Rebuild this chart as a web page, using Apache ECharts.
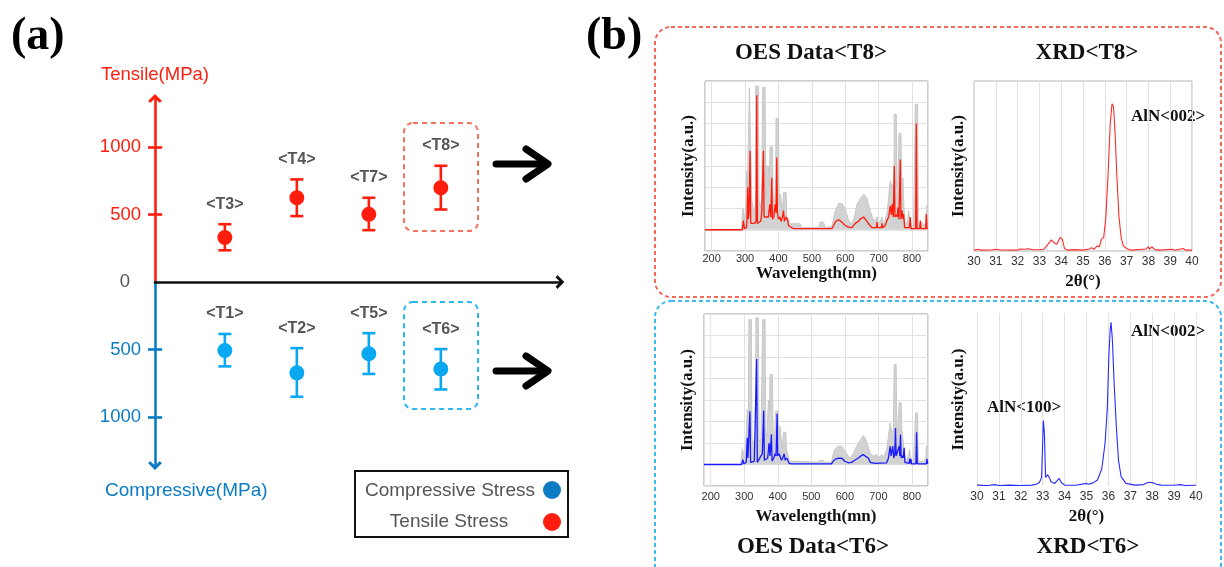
<!DOCTYPE html>
<html><head><meta charset="utf-8">
<script src="https://cdn.jsdelivr.net/npm/echarts@6.0.0/dist/echarts.min.js"></script>
<style>html,body{margin:0;padding:0;background:#fff}#c{width:1224px;height:567px}</style>
</head><body><div id="c"></div>
<script>
// ---------- panel (a): residual stress ----------
const tensileNames = ['<T3>', '<T4>', '<T7>', '<T8>'];
const tensileMean = [330, 624, 502, 698];
const tensileLow = [235, 488, 384, 537];
const tensileHigh = [428, 760, 624, 861];
const compressiveNames = ['<T1>', '<T2>', '<T5>', '<T6>'];
const compressiveMean = [507, 673, 532, 644];
const compressiveLow = [385, 490, 379, 497];
const compressiveHigh = [625, 850, 681, 796];
const sampleSlots = [0, 1, 2, 3];
const stressTicks = [500, 1000];

// ---------- panel (b): OES spectra [wavelength nm, intensity a.u.] ----------
const wavelengthLabels = [200, 300, 400, 500, 600, 700, 800];
const oesT8Reference = [[180,0],[290,0],[292,0.6],[294,1.0],[298,1.0],[300,0.5],[303,1.5],[305,2.76],[307,2.0],[311,2.0],[313,6.67],[318,6.67],[320,1.4],[324,1.0],[328,0.9],[331,1.3],[332,6.76],[340,6.76],[342,1.3],[346,1.1],[350,1.4],[353,6.7],[360,6.7],[362,1.5],[363,3.0],[370,3.0],[372,2.0],[375,3.9],[382,3.9],[384,1.6],[388,1.3],[391,1.8],[393,5.24],[400,5.24],[402,1.2],[405,1.7],[410,1.7],[412,0.9],[415,1.75],[423,1.75],[425,0.6],[430,0.5],[435,0.28],[465,0.28],[470,0.1],[520,0.1],[525,0.36],[535,0.36],[540,0.1],[560,0.15],[565,0.5],[570,0.9],[580,1.24],[590,1.24],[600,1.0],[610,0.43],[620,0.28],[628,0.6],[635,1.2],[645,1.45],[655,1.67],[665,1.5],[675,0.9],[685,0.43],[692,0.45],[695,0.6],[698,0.3],[705,0.4],[710,0.6],[713,0.3],[718,0.4],[725,0.74],[735,2.3],[740,2.0],[746,2.2],[747,5.43],[753,5.43],[755,2.0],[758,2.3],[761,4.54],[767,4.54],[769,2.0],[773,2.45],[776,1.0],[780,0.28],[786,0.3],[790,0.9],[794,0.9],[797,0.2],[805,0.2],[810,5.9],[817,5.9],[819,0.2],[830,0.35],[835,0.2],[842,0.3],[843,1.13],[848,1.13]];
const oesT8Spectrum = [[180,0],[292,0],[295,0.43],[298,0.05],[304,0.1],[306,0.5],[308,2.0],[310,0.5],[312,0.8],[315,3.72],[317,0.3],[322,0.3],[328,0.3],[333,0.4],[335,6.33],[337,0.3],[342,0.3],[347,0.4],[350,0.8],[352,0.8],[355,3.72],[357,0.6],[362,0.6],[370,0.6],[374,1.2],[377,0.6],[380,2.45],[382,0.5],[386,0.6],[390,1.2],[393,0.8],[395,3.4],[397,0.8],[400,0.5],[404,0.6],[408,0.4],[412,0.6],[415,0.9],[418,0.4],[423,0.6],[427,0.5],[430,0.2],[435,0.12],[445,0.05],[560,0.05],[565,0.2],[572,0.4],[580,0.47],[590,0.36],[600,0.2],[610,0.12],[620,0.1],[630,0.3],[640,0.4],[645,0.5],[650,0.45],[655,0.6],[660,0.5],[665,0.4],[670,0.28],[680,0.1],[694,0.1],[695,0.36],[697,0.1],[709,0.1],[710,0.3],[712,0.1],[720,0.2],[725,0.43],[730,0.6],[735,1.13],[738,0.7],[741,1.2],[744,0.6],[747,3.0],[749,0.6],[753,0.7],[756,0.6],[758,1.05],[761,0.5],[765,3.3],[767,0.5],[770,0.9],[773,0.5],[775,0.74],[778,0.1],[792,0.1],[795,0.6],[797,0.05],[811,0.05],[813,5.0],[815,0.05],[823,0.05],[825,0.43],[827,0.05],[841,0.05],[843,0.74],[845,0.05],[848,0.05]];
const oesT6Reference = [[180,0],[290,0],[292,0.4],[294,0.73],[299,0.73],[301,0.4],[305,1.0],[309,2.56],[312,1.5],[314,6.74],[321,6.74],[323,1.2],[328,1.0],[333,1.2],[335,6.82],[342,6.82],[344,1.1],[350,1.2],[355,6.74],[362,6.74],[364,1.3],[368,1.5],[372,3.0],[375,2.5],[377,4.19],[384,4.19],[386,1.5],[390,1.2],[394,2.48],[401,2.48],[403,1.2],[407,1.78],[410,1.2],[414,0.8],[417,1.5],[424,1.5],[426,0.7],[431,0.7],[435,0.15],[470,0.15],[475,0.1],[520,0.1],[525,0.2],[535,0.2],[540,0.1],[560,0.12],[565,0.45],[570,0.7],[580,0.85],[590,0.85],[600,0.62],[615,0.3],[625,0.5],[635,0.85],[645,1.1],[655,1.35],[665,1.08],[675,0.54],[685,0.4],[695,0.46],[700,0.3],[710,0.46],[715,0.3],[725,0.7],[735,1.94],[740,1.5],[745,1.6],[747,4.65],[753,4.65],[755,1.6],[758,1.7],[762,2.87],[768,2.87],[770,1.6],[775,1.63],[778,0.5],[783,0.15],[790,0.4],[793,0.7],[796,0.2],[805,0.15],[811,2.4],[817,2.4],[819,0.15],[835,0.15],[842,0.3],[843,0.85],[848,0.85]];
const oesT6Spectrum = [[180,0],[292,0],[296,0.23],[299,0.02],[306,0.1],[309,1.24],[311,0.3],[314,0.3],[317,2.48],[319,0.1],[324,0.1],[330,0.15],[335,0.15],[337,4.91],[339,0.1],[344,0.1],[350,0.4],[354,0.5],[358,2.51],[360,0.2],[364,0.25],[370,0.3],[374,1.0],[377,0.4],[381,1.4],[383,0.15],[388,0.3],[392,0.5],[395,0.4],[398,2.36],[400,0.4],[404,0.5],[408,0.45],[411,0.2],[415,0.3],[419,0.5],[422,0.2],[427,0.3],[431,0.39],[434,0.05],[440,0.03],[560,0.03],[565,0.15],[572,0.25],[582,0.3],[592,0.28],[600,0.15],[610,0.08],[620,0.1],[630,0.2],[640,0.3],[648,0.4],[655,0.46],[662,0.38],[670,0.3],[676,0.1],[690,0.05],[725,0.08],[730,0.3],[735,0.85],[738,0.4],[743,0.85],[746,0.3],[749,0.5],[751,1.7],[753,0.4],[757,0.4],[762,0.85],[764,0.4],[766,1.4],[768,0.3],[771,0.4],[774,0.3],[777,0.78],[779,0.1],[792,0.05],[793,0.26],[795,0.05],[797,0.26],[799,0.03],[812,0.03],[814,1.5],[816,0.03],[843,0.03],[845,0.26],[847,0.03]];

// ---------- panel (b): XRD patterns [2theta deg, intensity a.u.] ----------
const xrdT8 = [[30,0.5],[30.2,1],[30.3,0.5],[30.8,0.6],[31,1],[31.2,0.6],[32,0.5],[32.1,1.2],[32.3,1],[32.5,1.3],[32.7,0.7],[33,0.7],[33.2,1],[33.4,4],[33.55,6.5],[33.7,4.5],[33.8,4],[33.95,8],[34.05,7],[34.15,1.5],[34.3,0.5],[34.6,0.8],[35,0.5],[35.3,1.2],[35.4,2],[35.5,1],[35.65,3],[35.75,2.5],[35.85,7],[35.95,8],[36.05,20],[36.15,45],[36.25,75],[36.33,86.6],[36.4,85],[36.47,70],[36.55,45],[36.65,20],[36.75,8],[36.85,3],[37,1.5],[37.2,0.5],[37.9,1.2],[38,2.5],[38.05,1],[38.15,2.5],[38.3,0.8],[38.5,0.5],[39.1,1],[39.2,0.4],[39.6,1.5],[39.7,0.5],[40,0.5]];
const xrdT6 = [[30,0.5],[30.5,0.3],[30.8,0.8],[31,0.3],[31.5,0.5],[32,0.3],[32.5,0.5],[32.7,1],[32.85,2],[32.95,5],[33.03,37.8],[33.08,30],[33.13,5],[33.22,6.4],[33.3,5],[33.38,2.5],[33.45,3.5],[33.55,1.5],[33.65,3],[33.75,4.4],[33.85,2],[34,0.5],[34.5,0.4],[35,1.5],[35.1,1],[35.3,1.8],[35.5,3.5],[35.7,10],[35.85,25],[35.95,45],[36.02,75],[36.08,90],[36.12,94.6],[36.18,85],[36.26,60],[36.36,35],[36.46,15],[36.58,5.4],[36.8,1.5],[37.2,0.5],[37.6,0.8],[37.8,2],[38,2],[38.2,1],[38.4,0.5],[39,0.4],[39.3,0.8],[39.5,0.3],[40,0.4]];

// ---------- styling ----------
const RED = '#ff1e0e', BLUE_PT = '#0ba8f2', BLUE_AX = '#0b7cc4', LABEL_GRAY = '#555';
const SERIF = '"Liberation Serif", "Times New Roman", serif';
const SANS = '"Liberation Sans", Arial, sans-serif';
const CHEVRON = 'path://M0,10 L10,0 L20,10 L16.5,12.5 L10,6 L3.5,12.5 Z';

function errorBarItem(names, color) {
  return function (params, api) {
    const x = api.value(0), m = api.value(1), lo = api.value(2), hi = api.value(3);
    const pm = api.coord([x, m]), pl = api.coord([x, lo]), ph = api.coord([x, hi]);
    const topY = Math.min(pl[1], ph[1]);
    const cw = 6.5, lw = 2.6;
    const s = {stroke: color, lineWidth: lw};
    return {type: 'group', children: [
      {type: 'line', shape: {x1: pm[0], y1: pl[1], x2: pm[0], y2: ph[1]}, style: s},
      {type: 'line', shape: {x1: pm[0] - cw, y1: pl[1], x2: pm[0] + cw, y2: pl[1]}, style: s},
      {type: 'line', shape: {x1: pm[0] - cw, y1: ph[1], x2: pm[0] + cw, y2: ph[1]}, style: s},
      {type: 'circle', shape: {cx: pm[0], cy: pm[1], r: 7.5}, style: {fill: color}},
      {type: 'text', x: pm[0], y: topY - 20, style: {text: names[params.dataIndex], fill: LABEL_GRAY,
        font: 'bold 16px ' + SANS, align: 'center', verticalAlign: 'middle', textAlign: 'center', textVerticalAlign: 'middle'}}
    ]};
  };
}

function txt(text, x, y, font, fill, align) {
  return {type: 'text', x: x, y: y, style: {text: text, font: font, fill: fill || '#000',
    align: align || 'center', verticalAlign: 'middle', textAlign: align || 'center', textVerticalAlign: 'middle'}};
}
function arrowGroup(y) {
  return [
    {type: 'polyline', shape: {points: [[496, y], [546, y]]}, style: {stroke: '#000', lineWidth: 7, lineCap: 'round', fill: null}},
    {type: 'polyline', shape: {points: [[526, y - 15], [548, y], [526, y + 15]]}, style: {stroke: '#000', lineWidth: 7, lineCap: 'round', lineJoin: 'round', fill: null}}
  ];
}

const stressSlotMin = -0.97, stressSlotMax = 4.655;
const innerTickLen = 0.1; // in slot units (~7 px)
function innerTicks(values, color) {
  return {silent: true, symbol: ['none', 'none'], label: {show: false},
    lineStyle: {color: color, width: 2.6, type: 'solid'},
    data: values.map(v => [{coord: [stressSlotMin, v]}, {coord: [stressSlotMin + innerTickLen, v]}])};
}
const tickLabelStyle = {fontFamily: SANS, color: '#333'};
const axisNameStyle = {fontFamily: SERIF, fontWeight: 'bold', fontSize: 17, color: '#111'};
const gridSplit = {show: true, lineStyle: {color: '#e2e2e2', width: 1}};

const option = {
  animation: false,
  backgroundColor: '#fff',
  grid: [
    {left: 155, top: 98.4, width: 405, height: 183.6},
    {left: 155, top: 282, width: 405, height: 183.6},
    {left: 705, top: 81, width: 223, height: 170, show: true, borderColor: '#9a9a9a', borderWidth: 1},
    {left: 974, top: 81, width: 218, height: 170, show: true, borderColor: '#b5b5b5', borderWidth: 1},
    {left: 704, top: 314, width: 224, height: 172, show: true, borderColor: '#9a9a9a', borderWidth: 1},
    {left: 977, top: 313, width: 219, height: 173, show: false}
  ],
  xAxis: [
    {gridIndex: 0, type: 'value', min: stressSlotMin, max: stressSlotMax,
      axisLine: {show: true, onZero: false, lineStyle: {color: '#111', width: 2.6}, symbol: ['none', CHEVRON], symbolSize: [14, 12]},
      axisTick: {show: false}, axisLabel: {show: false}, splitLine: {show: false}},
    {gridIndex: 1, type: 'value', min: stressSlotMin, max: stressSlotMax, show: false},
    {gridIndex: 2, type: 'value', min: 180, max: 848,
      name: 'Wavelength(mn)', nameLocation: 'middle', nameGap: 6, nameTextStyle: axisNameStyle,
      axisLine: {show: false, onZero: false}, axisTick: {show: false},
      axisLabel: {customValues: wavelengthLabels, fontSize: 11, margin: 2, ...tickLabelStyle},
      splitLine: gridSplit},
    {gridIndex: 3, type: 'value', min: 30, max: 40, interval: 1,
      name: '2θ(°)', nameLocation: 'middle', nameGap: 22, nameTextStyle: axisNameStyle,
      axisLine: {show: false, onZero: false}, axisTick: {show: false},
      axisLabel: {fontSize: 12, margin: 5, ...tickLabelStyle},
      splitLine: gridSplit},
    {gridIndex: 4, type: 'value', min: 180, max: 848,
      name: 'Wavelength(mn)', nameLocation: 'middle', nameGap: 22, nameTextStyle: axisNameStyle,
      axisLine: {show: false, onZero: false}, axisTick: {show: false},
      axisLabel: {customValues: wavelengthLabels, fontSize: 11, margin: 5, ...tickLabelStyle},
      splitLine: gridSplit},
    {gridIndex: 5, type: 'value', min: 30, max: 40, interval: 1,
      name: '2θ(°)', nameLocation: 'middle', nameGap: 22, nameTextStyle: axisNameStyle,
      axisLine: {show: false, onZero: false}, axisTick: {show: false},
      axisLabel: {fontSize: 12, margin: 5, ...tickLabelStyle},
      splitLine: gridSplit}
  ],
  yAxis: [
    {gridIndex: 0, type: 'value', position: 'left', min: 0, max: 1360,
      axisLine: {show: true, onZero: false, lineStyle: {color: RED, width: 2.6}, symbol: ['none', CHEVRON], symbolSize: [14, 11]},
      axisTick: {show: true, length: 7, customValues: stressTicks, lineStyle: {color: RED, width: 2.6}},
      axisLabel: {customValues: [0].concat(stressTicks), color: RED, fontSize: 18.5, fontFamily: SANS, margin: 14,
        formatter: v => v === 0 ? '{z|0}' : String(v),
        rich: {z: {color: LABEL_GRAY, fontSize: 18.5, fontFamily: SANS, padding: [0, 11, 0, 0]}}},
      splitLine: {show: false}},
    {gridIndex: 1, type: 'value', position: 'left', min: -1360, max: 0,
      axisLine: {show: true, onZero: false, lineStyle: {color: BLUE_AX, width: 2.6}, symbol: [CHEVRON, 'none'], symbolSize: [14, 11]},
      axisTick: {show: true, length: 7, customValues: stressTicks.map(v => -v), lineStyle: {color: BLUE_AX, width: 2.6}},
      axisLabel: {customValues: stressTicks.map(v => -v), color: BLUE_AX, fontSize: 18.5, fontFamily: SANS, margin: 14,
        formatter: v => String(Math.abs(v))},
      splitLine: {show: false}},
    {gridIndex: 2, type: 'value', min: -1, max: 7, interval: 1,
      name: 'Intensity(a.u.)', nameLocation: 'middle', nameRotate: 90, nameGap: 8, nameTextStyle: axisNameStyle,
      axisLine: {show: false, onZero: false}, axisTick: {show: false}, axisLabel: {show: false}, splitLine: gridSplit},
    {gridIndex: 3, type: 'value', min: 0, max: 100,
      name: 'Intensity(a.u.)', nameLocation: 'middle', nameRotate: 90, nameGap: 7, nameTextStyle: axisNameStyle,
      axisLine: {show: false, onZero: false}, axisTick: {show: false}, axisLabel: {show: false}, splitLine: {show: false}},
    {gridIndex: 4, type: 'value', min: -1, max: 7, interval: 1,
      name: 'Intensity(a.u.)', nameLocation: 'middle', nameRotate: 90, nameGap: 8, nameTextStyle: axisNameStyle,
      axisLine: {show: false, onZero: false}, axisTick: {show: false}, axisLabel: {show: false}, splitLine: gridSplit},
    {gridIndex: 5, type: 'value', min: 0, max: 100,
      name: 'Intensity(a.u.)', nameLocation: 'middle', nameRotate: 90, nameGap: 10, nameTextStyle: axisNameStyle,
      axisLine: {show: false, onZero: false}, axisTick: {show: false}, axisLabel: {show: false}, splitLine: {show: false}}
  ],
  series: [
    {type: 'custom', name: 'Tensile Stress', xAxisIndex: 0, yAxisIndex: 0, z: 5,
      data: sampleSlots.map((s, i) => [s, tensileMean[i], tensileLow[i], tensileHigh[i]]),
      renderItem: errorBarItem(tensileNames, RED), markLine: innerTicks(stressTicks, RED)},
    {type: 'custom', name: 'Compressive Stress', xAxisIndex: 1, yAxisIndex: 1, z: 5,
      data: sampleSlots.map((s, i) => [s, -compressiveMean[i], -compressiveLow[i], -compressiveHigh[i]]),
      renderItem: errorBarItem(compressiveNames, BLUE_PT), markLine: innerTicks(stressTicks.map(v => -v), BLUE_AX)},
    {type: 'line', xAxisIndex: 2, yAxisIndex: 2, data: oesT8Reference, showSymbol: false, z: 2,
      lineStyle: {color: '#c8c8c8', width: 1}, areaStyle: {color: '#d2d2d2', opacity: 1, origin: 'auto'}},
    {type: 'line', xAxisIndex: 2, yAxisIndex: 2, data: oesT8Spectrum, showSymbol: false, z: 3,
      lineStyle: {color: '#ff1a0a', width: 1.3}},
    {type: 'line', xAxisIndex: 3, yAxisIndex: 3, data: xrdT8, showSymbol: false, z: 3,
      lineStyle: {color: '#ff2a2a', width: 1.1}},
    {type: 'line', xAxisIndex: 4, yAxisIndex: 4, data: oesT6Reference, showSymbol: false, z: 2,
      lineStyle: {color: '#c8c8c8', width: 1}, areaStyle: {color: '#d2d2d2', opacity: 1, origin: 'auto'}},
    {type: 'line', xAxisIndex: 4, yAxisIndex: 4, data: oesT6Spectrum, showSymbol: false, z: 3,
      lineStyle: {color: '#1a1aff', width: 1.3}},
    {type: 'line', xAxisIndex: 5, yAxisIndex: 5, data: xrdT6, showSymbol: false, z: 3,
      lineStyle: {color: '#2a2aff', width: 1.1}}
  ],
  graphic: {elements: [
    txt('(a)', 11, 37, 'bold 46px ' + SERIF, '#000', 'left'),
    txt('(b)', 586, 37, 'bold 46px ' + SERIF, '#000', 'left'),
    txt('Tensile(MPa)', 155, 75, '18.5px ' + SANS, RED),
    txt('Compressive(MPa)', 105, 491, '19px ' + SANS, BLUE_AX, 'left'),
    {type: 'rect', shape: {x: 404, y: 123, width: 74, height: 108, r: 9},
      style: {fill: null, stroke: '#f5735e', lineWidth: 2, lineDash: [5, 4]}},
    {type: 'rect', shape: {x: 404, y: 302, width: 74, height: 107, r: 9},
      style: {fill: null, stroke: '#2bb7f0', lineWidth: 2, lineDash: [5, 4]}},
    ...arrowGroup(164),
    ...arrowGroup(371),
    {type: 'rect', shape: {x: 355, y: 471, width: 213, height: 66}, style: {fill: '#fff', stroke: '#111', lineWidth: 2}},
    txt('Compressive Stress', 450, 491, '19px ' + SANS, LABEL_GRAY),
    txt('Tensile Stress', 449, 522, '19px ' + SANS, LABEL_GRAY),
    {type: 'circle', shape: {cx: 552, cy: 490, r: 9}, style: {fill: BLUE_AX}},
    {type: 'circle', shape: {cx: 552, cy: 522, r: 9}, style: {fill: RED}},
    {type: 'rect', shape: {x: 655, y: 27, width: 566, height: 270, r: 16},
      style: {fill: null, stroke: '#f0695a', lineWidth: 2, lineDash: [4, 3]}},
    {type: 'rect', shape: {x: 655, y: 301, width: 566, height: 300, r: 16},
      style: {fill: null, stroke: '#3cbaee', lineWidth: 2, lineDash: [4, 3]}},
    txt('OES Data<T8>', 811, 53, 'bold 23px ' + SERIF, '#111'),
    txt('XRD<T8>', 1087, 53, 'bold 23px ' + SERIF, '#111'),
    txt('OES Data<T6>', 813, 547, 'bold 23px ' + SERIF, '#111'),
    txt('XRD<T6>', 1088, 547, 'bold 23px ' + SERIF, '#111'),
    txt('AlN<002>', 1168, 117, 'bold 17px ' + SERIF, '#111'),
    txt('AlN<002>', 1168, 332, 'bold 17px ' + SERIF, '#111'),
    txt('AlN<100>', 1024, 408, 'bold 17px ' + SERIF, '#111')
  ]}
};

const chart = echarts.init(document.getElementById('c'), null, {renderer: 'canvas'});
chart.setOption(option);
</script></body></html>
